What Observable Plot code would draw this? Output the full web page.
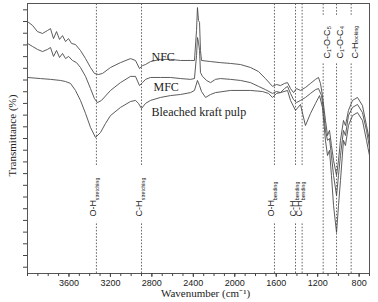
<!DOCTYPE html>
<html><head><meta charset="utf-8">
<script src="https://cdn.jsdelivr.net/npm/d3@7"></script>
<script src="https://cdn.jsdelivr.net/npm/@observablehq/plot@0.6"></script>
<style>html,body{margin:0;padding:0;background:#fff;overflow:hidden}#chart svg{display:block;max-width:none}</style>
</head><body><div id="chart"></div>
<script>
// ---- data (wavenumber in cm^-1, transmittance in arbitrary %) ----
const seriesNames = ["NFC", "MFC", "Bleached kraft pulp"];

const nfcWavenumber = [4000,3952,3904,3855,3807,3778,3749,3720,3691,3662,3633,3604,3575,3537,3489,3440,3392,3354,3315,3276,3199,3103,3006,2958,2919,2890,2861,2813,2717,2620,2524,2427,2389,2369,2360,2350,2340,2331,2321,2234,2138,2041,1945,1848,1771,1704,1636,1597,1559,1520,1491,1462,1433,1404,1366,1318,1269,1221,1192,1173,1154,1125,1105,1086,1067,1047,1018,999,980,951,932,903,864,816,768,729,700];
const nfcTransmittance = [93.3,91.9,89.6,88.9,90.0,90.7,87.0,89.6,86.7,88.1,85.9,87.0,85.2,84.8,82.6,79.6,76.3,74.1,73.7,74.1,76.3,78.1,79.6,78.9,75.9,77.0,77.4,78.5,79.3,79.3,78.9,78.9,78.9,90.0,98.5,93.7,93.0,82.6,78.9,78.5,78.1,77.8,77.4,76.3,74.8,72.2,69.3,70.0,69.6,70.4,70.7,68.5,67.0,68.5,67.8,68.9,70.4,71.9,72.6,70.4,65.9,56.7,51.1,53.0,47.4,41.9,36.3,41.9,49.3,56.7,54.8,60.4,64.1,65.2,62.2,54.8,49.3];

const mfcWavenumber = [4000,3952,3904,3855,3807,3778,3749,3720,3691,3662,3633,3604,3566,3527,3489,3440,3392,3354,3325,3286,3199,3103,3006,2958,2919,2890,2861,2813,2717,2620,2524,2427,2389,2369,2360,2350,2340,2331,2311,2273,2234,2186,2138,2041,1945,1848,1771,1704,1636,1597,1559,1520,1491,1462,1433,1404,1366,1318,1269,1221,1192,1163,1144,1125,1105,1086,1067,1047,1018,999,980,951,932,903,864,816,768,729,700];
const mfcTransmittance = [85.2,84.1,83.0,82.2,83.0,83.7,80.4,82.6,80.0,81.5,79.6,80.4,78.9,78.1,76.3,73.0,68.5,64.8,63.3,64.1,67.8,70.7,73.0,73.0,69.6,70.7,71.9,72.6,72.6,72.6,72.2,71.9,72.2,80.7,87.4,85.6,82.6,74.4,73.0,71.5,70.7,71.9,72.2,71.9,71.5,70.7,69.3,68.1,66.7,67.4,67.0,68.5,69.3,66.7,64.4,63.3,64.1,65.2,66.7,68.1,68.5,65.9,60.4,53.0,49.3,50.0,43.7,36.3,28.9,36.3,43.7,53.0,51.1,58.5,61.5,62.6,59.6,53.0,46.7];

const bkpWavenumber = [4000,3875,3778,3682,3633,3585,3537,3489,3440,3392,3344,3296,3247,3199,3103,3006,2958,2929,2900,2861,2813,2717,2620,2524,2427,2389,2360,2340,2321,2282,2234,2186,2041,1848,1733,1675,1636,1597,1559,1491,1462,1414,1366,1318,1269,1221,1182,1154,1125,1105,1086,1067,1047,1018,999,980,951,932,903,864,816,768,729,700];
const bkpTransmittance = [72.6,72.2,71.9,71.5,71.1,70.4,67.8,64.1,59.3,54.1,50.4,52.2,55.6,58.5,61.5,63.7,64.1,63.0,61.1,63.0,64.1,65.2,65.9,66.3,67.0,67.8,71.5,69.6,67.4,65.2,66.3,67.0,67.8,67.8,67.4,66.7,65.2,66.7,67.0,67.8,64.1,60.4,62.6,54.8,59.3,63.0,65.9,61.5,49.3,43.7,45.6,36.3,25.2,15.2,25.2,34.4,49.3,47.4,54.8,58.5,59.6,56.7,49.3,43.7];

// band assignments (dashed lines)
const bandWavenumber = [3335, 2900, 1617, 1414, 1350, 1147, 1018, 877];
const bandGroup = ["bottom","bottom","bottom","bottom","bottom","top","top","top"];
const bandMain = ["O-H","C-H","O-H","C-H","C-H","C\u2081-O-C\u2085","C\u2081-O-C\u2084","C-H"];
const bandSub = ["stretching","stretching","bending","bending","bending","","","rocking"];

// axis ticks
const xTickLabels = [3600, 3200, 2800, 2400, 2000, 1600, 1200, 800];
const xMinorTicks = d3.range(700, 4001, 100);
const yTicks = d3.range(2.33, 99, 4.333);

// ---- build tables ----
const rows = [
  ...nfcWavenumber.map((w, i) => ({series: seriesNames[0], w, t: nfcTransmittance[i]})),
  ...mfcWavenumber.map((w, i) => ({series: seriesNames[1], w, t: mfcTransmittance[i]})),
  ...bkpWavenumber.map((w, i) => ({series: seriesNames[2], w, t: bkpTransmittance[i]}))
];
const bands = bandWavenumber.map((w, i) => ({w, group: bandGroup[i], main: bandMain[i], sub: bandSub[i]}));
const bottomBands = bands.filter(d => d.group === "bottom");
const topBands = bands.filter(d => d.group === "top");
const topSubs = topBands.filter(d => d.sub);

const serif = "'Liberation Serif', 'Times New Roman', serif";
const sans = "'Liberation Sans', Arial, sans-serif";
const dash = {stroke: "#6a6a6a", strokeWidth: 1, strokeDasharray: "1.6,1.6"};

const chart = Plot.plot({
  width: 378,
  height: 302,
  marginLeft: 27,
  marginRight: 9,
  marginTop: 3,
  marginBottom: 29,
  style: {fontFamily: sans, fontSize: "9px", background: "#fff", color: "#222"},
  x: {domain: [4000, 700]},
  y: {domain: [0, 100]},
  marks: [
    Plot.ruleX(bottomBands, {x: "w", y1: 40, y2: 100, ...dash}),
    Plot.ruleX(bottomBands, {x: "w", y1: 0, y2: 19, ...dash}),
    Plot.ruleX(topBands, {x: "w", y1: 95.6, y2: 100, ...dash}),
    Plot.ruleX(topBands, {x: "w", y1: 0, y2: 77.8, ...dash}),
    Plot.line(rows, {x: "w", y: "t", z: "series", stroke: "#4a4a4a", strokeWidth: 0.9}),
    Plot.frame({stroke: "#555"}),
    Plot.axisX({ticks: xMinorTicks, tickSize: 3, tickFormat: () => "", label: null, stroke: "#444"}),
    Plot.axisX({ticks: xTickLabels, tickSize: 4, tickPadding: 2, tickFormat: d => String(d), label: null, fontSize: 9, fill: "#222", stroke: "#444"}),
    Plot.axisY({ticks: yTicks, tickSize: 4, tickFormat: () => "", label: null, stroke: "#444"}),
    // band labels
    Plot.text(bottomBands, {x: "w", text: "main", frameAnchor: "bottom", dy: -57, rotate: -90, textAnchor: "start", fontSize: 9, fontFamily: sans, fill: "#222"}),
    Plot.text(bottomBands, {x: "w", text: "sub", frameAnchor: "bottom", dy: -73.3, dx: 3, rotate: -90, textAnchor: "start", fontSize: 5.2, fontFamily: sans, fill: "#222"}),
    Plot.text(topBands, {x: "w", text: "main", frameAnchor: "top", dy: 55, rotate: -90, textAnchor: "start", fontSize: 9, fontFamily: sans, fill: "#222"}),
    Plot.text(topSubs, {x: "w", text: "sub", frameAnchor: "top", dy: 39, dx: 3, rotate: -90, textAnchor: "start", fontSize: 5.2, fontFamily: sans, fill: "#222"}),
    // series labels
    Plot.text([seriesNames[0]], {text: d => d, frameAnchor: "top-left", dx: 124, dy: 48.5, textAnchor: "start", fontFamily: serif, fontSize: 12, fill: "#222"}),
    Plot.text([seriesNames[1]], {text: d => d, frameAnchor: "top-left", dx: 126, dy: 78.5, textAnchor: "start", fontFamily: serif, fontSize: 12, fill: "#222"}),
    Plot.text([seriesNames[2]], {text: d => d, frameAnchor: "top-left", dx: 124, dy: 104, textAnchor: "start", fontFamily: serif, fontSize: 12, fill: "#222"}),
    // axis titles
    Plot.text(["Wavenumber (cm\u207B\u00B9)"], {text: d => d, frameAnchor: "bottom", dx: 7, dy: 23, textAnchor: "middle", fontFamily: serif, fontSize: 11, fill: "#222"}),
    Plot.text(["Transmittance (%)"], {text: d => d, frameAnchor: "left", dx: -15, dy: -3, rotate: -90, textAnchor: "middle", fontFamily: serif, fontSize: 11, fill: "#222"})
  ]
});
document.getElementById("chart").appendChild(chart);
</script>
</body></html>
